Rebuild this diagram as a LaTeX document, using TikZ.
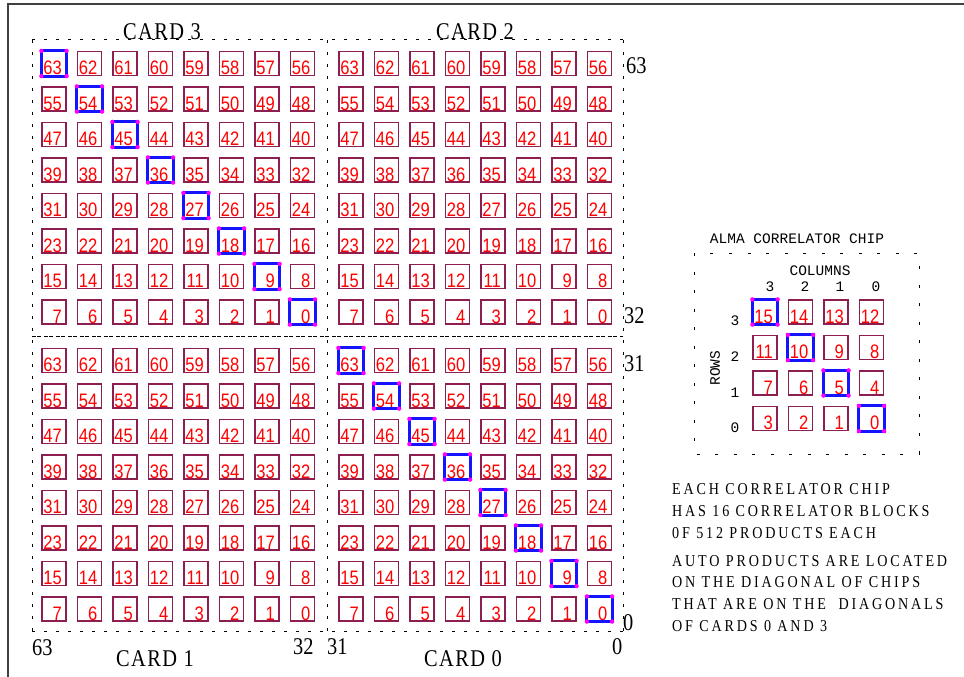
\documentclass[tikz,border=0pt]{standalone}
\usepackage{fontspec}
\setmainfont{Liberation Serif}
\newfontfamily\cellfont[FakeStretch=0.85]{Liberation Sans}
\newfontfamily\cardfont[FakeStretch=0.85,LetterSpace=6]{Liberation Serif}
\newfontfamily\numfont[FakeStretch=0.85]{Liberation Serif}
\newfontfamily\notefont[FakeStretch=0.85,LetterSpace=17]{Liberation Serif}
\newfontfamily\chipmono{Liberation Mono}
\usetikzlibrary{calc}
\definecolor{boxedge}{RGB}{140,30,80}
\definecolor{hiblue}{RGB}{20,20,255}
\definecolor{dotmag}{RGB}{255,0,255}
\tikzset{
  cellbox/.style={draw=boxedge, line width=1.2bp, minimum width=24bp, minimum height=24bp, inner sep=0pt},
  celltxt/.style={text=red, font=\cellfont\fontsize{19.5bp}{20bp}\selectfont, inner sep=0pt, anchor=base east},
  hilite/.style={draw=hiblue, line width=3bp},
  hidot/.style={fill=dotmag, draw=none},
  carddash/.style={line width=1bp, dash pattern=on 3bp off 9bp},
  dividerdash/.style={line width=1bp, dash pattern=on 3.5bp off 1.5bp on 3.5bp off 3.5bp},
  chipdash/.style={line width=1bp, dash pattern=on 3bp off 15.5bp},
  cardlbl/.style={font=\cardfont\fontsize{24bp}{26bp}\selectfont, inner sep=0pt, anchor=base},
  edgenum/.style={font=\numfont\fontsize{24bp}{26bp}\selectfont, inner sep=0pt, anchor=base west},
  notetxt/.style={font=\notefont\fontsize{16.6bp}{18bp}\selectfont, inner sep=0pt, anchor=base west},
  monotxt/.style={font=\chipmono\fontsize{14.5bp}{15bp}\selectfont, inner sep=0pt, anchor=base}
}
\begin{document}
\begin{tikzpicture}[x=1bp,y=-1bp]
\useasboundingbox (0,0) rectangle (964,677);
% outer frame
\draw[line width=1.5bp, black!75] (964,4) -- (8,4) -- (8,677);
% card dashed frames
\draw[carddash] (32,40) -- (623,40);
\draw[carddash] (32,631) -- (623,631);
\draw[dividerdash] (32,336) -- (623,336);
\draw[carddash] (32,40) -- (32,631);
\draw[carddash] (327,40) -- (327,631);
\draw[carddash] (623,40) -- (623,631);
% cards
\foreach \cid/\ox/\oy/\hl in {3/0/0/1, 2/297/0/0, 1/0/297/0, 0/297/297/1}{
  \foreach \r in {0,...,7}{
    \foreach \c in {0,...,7}{
      \pgfmathtruncatemacro{\lab}{63-8*\r-\c}
      \node[cellbox] (b\cid-\r-\c) at (\ox+54+\c*35.5, \oy+63.5+\r*35.5) {};
      \node[celltxt] (t\cid-\r-\c) at ($(b\cid-\r-\c.south east)+(-4.5,-1.5)$) {\lab};
    }
    \ifnum\hl=1
      \draw[hilite] (b\cid-\r-\r.north west) rectangle (b\cid-\r-\r.south east);
      \foreach \cn in {north west, north east, south west, south east}{
        \fill[hidot] (b\cid-\r-\r.\cn) circle (2.2bp);
      }
    \fi
  }
}
% card labels
\node[cardlbl] (lcard3) at (162,40) {CARD 3};
\node[cardlbl] (lcard2) at (475,40) {CARD 2};
\node[cardlbl] (lcard1) at (155,666) {CARD 1};
\node[cardlbl] (lcard0) at (463,666) {CARD 0};
% edge numbers
\node[edgenum] (n63r) at (626,74) {63};
\node[edgenum] (n32r) at (624,323) {32};
\node[edgenum] (n31r) at (624,371) {31};
\node[edgenum] (n0r) at (623,630) {0};
\node[edgenum] (n63b) at (32,655) {63};
\node[edgenum] (n32b) at (293,654) {32};
\node[edgenum] (n31b) at (327,654) {31};
\node[edgenum] (n0b) at (612,654) {0};
% chip
\node[monotxt] (chiptitle) at (797,243) {ALMA CORRELATOR CHIP};
\draw[chipdash] (694,253) rectangle (919,454);
\node[monotxt] (columns) at (820,275) {COLUMNS};
\node[monotxt] (col3) at (770,291) {3};
\node[monotxt] (col2) at (805,291) {2};
\node[monotxt] (col1) at (840,291) {1};
\node[monotxt] (col0) at (876,291) {0};
\node[monotxt] (row3) at (735,325) {3};
\node[monotxt] (row2) at (735,361) {2};
\node[monotxt] (row1) at (735,397) {1};
\node[monotxt] (row0) at (735,432) {0};
\node[monotxt, anchor=center, rotate=90] (rows) at (715,368) {ROWS};
\foreach \r in {0,...,3}{
  \foreach \c in {0,...,3}{
    \pgfmathtruncatemacro{\lab}{15-4*\r-\c}
    \node[cellbox] (cb-\r-\c) at (765+\c*35.5, 312+\r*35.5) {};
    \node[celltxt] (ct-\r-\c) at ($(cb-\r-\c.south east)+(-4.5,-1.5)$) {\lab};
  }
  \draw[hilite] (cb-\r-\r.north west) rectangle (cb-\r-\r.south east);
  \foreach \cn in {north west, north east, south west, south east}{
    \fill[hidot] (cb-\r-\r.\cn) circle (2.2bp);
  }
}
% notes
\node[notetxt] (note1) at (672,494) {EACH CORRELATOR CHIP};
\node[notetxt] (note2) at (672,516) {HAS 16 CORRELATOR BLOCKS};
\node[notetxt] (note3) at (672,538) {0F 512 PRODUCTS EACH};
\node[notetxt] (note4) at (672,566) {AUTO PRODUCTS ARE LOCATED};
\node[notetxt] (note5) at (672,587) {ON THE DIAGONAL OF CHIPS};
\node[notetxt] (note6) at (672,609) {THAT ARE ON THE \ DIAGONALS};
\node[notetxt] (note7) at (672,631) {OF CARDS 0 AND 3};
\end{tikzpicture}
\end{document}
